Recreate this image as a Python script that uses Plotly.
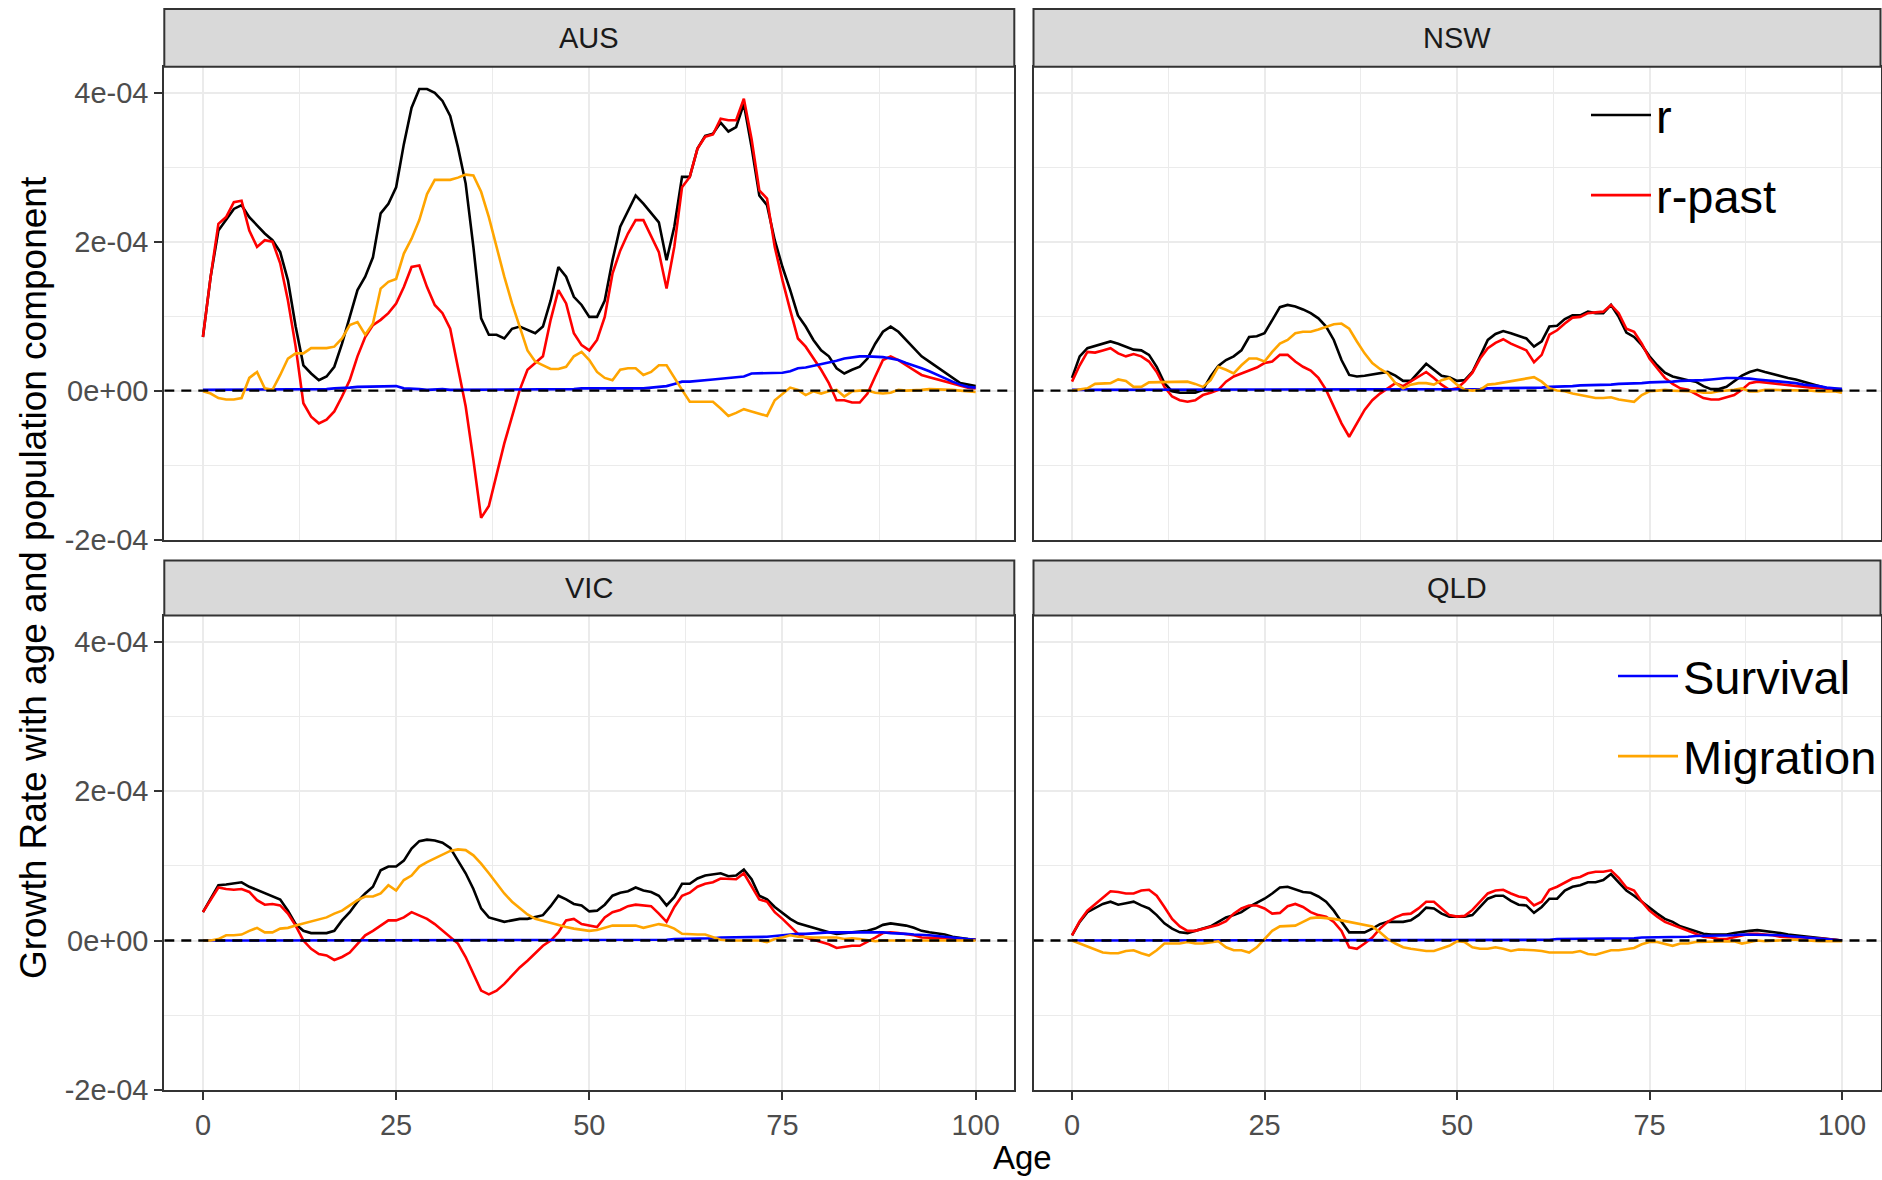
import plotly.graph_objects as go

# ---------------- data (values in units of 1e-4) ----------------
UNIT = 1e-4
AGES = list(range(0, 101))
PANELS = ["AUS", "NSW", "VIC", "QLD"]
SERIES = ["r", "r-past", "Survival", "Migration"]
X_TICK_VALUES = [0, 25, 50, 75, 100]
X_TICK_LABELS = ["0", "25", "50", "75", "100"]
Y_TICK_VALUES = [-2e-4, 0.0, 2e-4, 4e-4]
Y_TICK_LABELS = ["-2e-04", "0e+00", "2e-04", "4e-04"]

AUS_R = [0.72, 1.53, 2.15, 2.29, 2.44, 2.49, 2.33, 2.22, 2.11, 2.02,
         1.86, 1.48, 0.86, 0.34, 0.23, 0.14, 0.19, 0.32, 0.63, 0.99,
         1.35, 1.53, 1.79, 2.38, 2.51, 2.73, 3.31, 3.80, 4.05, 4.05,
         4.00, 3.89, 3.69, 3.27, 2.78, 1.93, 0.97, 0.75, 0.75, 0.70,
         0.83, 0.86, 0.81, 0.77, 0.86, 1.21, 1.66, 1.53, 1.26, 1.15,
         0.99, 0.99, 1.21, 1.75, 2.20, 2.42, 2.62, 2.51, 2.38, 2.26,
         1.75, 2.20, 2.87, 2.87, 3.25, 3.42, 3.45, 3.60, 3.48, 3.54,
         3.85, 3.27, 2.62, 2.49, 2.02, 1.66, 1.35, 1.01, 0.86, 0.68,
         0.54, 0.46, 0.30, 0.23, 0.28, 0.32, 0.43, 0.63, 0.79, 0.86,
         0.79, 0.68, 0.57, 0.46, 0.39, 0.32, 0.25, 0.17, 0.10, 0.08,
         0.06]
AUS_RPAST = [0.72, 1.53, 2.24, 2.33, 2.53, 2.55, 2.15, 1.93, 2.02, 2.00,
             1.71, 1.21, 0.59, -0.17, -0.35, -0.44, -0.39, -0.28, -0.08, 0.14,
             0.46, 0.72, 0.88, 0.95, 1.04, 1.17, 1.39, 1.66, 1.68, 1.39,
             1.15, 1.04, 0.83, 0.32, -0.21, -0.93, -1.71, -1.55, -1.11, -0.71,
             -0.35, 0.01, 0.28, 0.37, 0.46, 0.95, 1.35, 1.17, 0.77, 0.61,
             0.54, 0.68, 0.99, 1.57, 1.88, 2.11, 2.29, 2.29, 2.08, 1.86,
             1.37, 1.93, 2.73, 2.87, 3.25, 3.41, 3.44, 3.65, 3.63, 3.63,
             3.92, 3.38, 2.69, 2.58, 1.93, 1.48, 1.08, 0.70, 0.59, 0.43,
             0.28, 0.10, -0.13, -0.13, -0.16, -0.16, -0.04, 0.19, 0.41, 0.46,
             0.41, 0.34, 0.28, 0.21, 0.18, 0.15, 0.12, 0.09, 0.06, 0.04,
             0.03]
AUS_SURV = [0.01, 0.01, 0.01, 0.01, 0.01, 0.01, 0.01, 0.01, 0.01, 0.01,
            0.01, 0.01, 0.01, 0.01, 0.02, 0.02, 0.02, 0.03, 0.03, 0.04,
            0.05, 0.05, 0.06, 0.06, 0.06, 0.06, 0.03, 0.02, 0.02, 0.01,
            0.02, 0.02, 0.01, 0.01, 0.01, 0.01, 0.01, 0.01, 0.02, 0.02,
            0.02, 0.02, 0.01, 0.01, 0.02, 0.02, 0.02, 0.02, 0.02, 0.03,
            0.03, 0.02, 0.02, 0.02, 0.02, 0.03, 0.03, 0.03, 0.04, 0.05,
            0.06, 0.09, 0.12, 0.12, 0.13, 0.13, 0.15, 0.16, 0.17, 0.19,
            0.19, 0.23, 0.23, 0.24, 0.24, 0.24, 0.26, 0.30, 0.31, 0.33,
            0.35, 0.38, 0.40, 0.43, 0.45, 0.46, 0.46, 0.46, 0.45, 0.43,
            0.41, 0.37, 0.34, 0.30, 0.26, 0.21, 0.17, 0.12, 0.08, 0.05,
            0.04]
AUS_MIG = [-0.01, -0.04, -0.10, -0.12, -0.12, -0.10, 0.17, 0.25, 0.03, 0.01,
           0.21, 0.43, 0.50, 0.50, 0.57, 0.57, 0.57, 0.59, 0.70, 0.88,
           0.92, 0.75, 0.90, 1.37, 1.46, 1.50, 1.84, 2.04, 2.29, 2.64,
           2.83, 2.83, 2.83, 2.86, 2.90, 2.89, 2.67, 2.33, 1.93, 1.53,
           1.17, 0.86, 0.54, 0.39, 0.34, 0.29, 0.29, 0.32, 0.46, 0.52,
           0.41, 0.25, 0.17, 0.14, 0.28, 0.30, 0.30, 0.21, 0.25, 0.34,
           0.34, 0.17, 0.01, -0.15, -0.15, -0.15, -0.15, -0.24, -0.34, -0.30,
           -0.25, -0.28, -0.31, -0.34, -0.13, -0.04, 0.04, 0.01, -0.06, -0.01,
           -0.04, -0.01, 0.01, -0.08, -0.01, 0.00, 0.00, -0.03, -0.04, -0.03,
           0.01, 0.00, 0.00, 0.01, 0.02, 0.02, 0.02, 0.01, 0.00, -0.01,
           -0.02]

NSW_R = [0.17, 0.46, 0.57, 0.60, 0.64, 0.66, 0.63, 0.59, 0.55, 0.54,
         0.48, 0.32, 0.10, -0.01, -0.03, -0.03, -0.03, 0.01, 0.19, 0.33,
         0.41, 0.46, 0.54, 0.72, 0.73, 0.77, 0.95, 1.12, 1.15, 1.13,
         1.09, 1.04, 0.97, 0.86, 0.68, 0.41, 0.21, 0.19, 0.20, 0.22,
         0.24, 0.25, 0.20, 0.13, 0.13, 0.25, 0.36, 0.28, 0.20, 0.18,
         0.13, 0.14, 0.25, 0.46, 0.68, 0.76, 0.80, 0.77, 0.73, 0.70,
         0.59, 0.66, 0.86, 0.87, 0.96, 1.01, 1.01, 1.06, 1.04, 1.04,
         1.15, 0.99, 0.78, 0.72, 0.61, 0.46, 0.34, 0.24, 0.19, 0.16,
         0.14, 0.12, 0.06, 0.02, 0.02, 0.05, 0.12, 0.20, 0.25, 0.28,
         0.25, 0.22, 0.20, 0.17, 0.15, 0.12, 0.09, 0.05, 0.03, 0.02,
         0.02]
NSW_RPAST = [0.12, 0.34, 0.52, 0.51, 0.54, 0.57, 0.50, 0.46, 0.49, 0.46,
             0.39, 0.25, 0.05, -0.08, -0.13, -0.15, -0.13, -0.06, -0.03, 0.01,
             0.12, 0.19, 0.23, 0.27, 0.31, 0.37, 0.39, 0.48, 0.48, 0.39,
             0.32, 0.27, 0.17, 0.01, -0.21, -0.44, -0.62, -0.44, -0.26, -0.13,
             -0.04, 0.03, 0.10, 0.06, 0.12, 0.19, 0.25, 0.17, 0.08, 0.01,
             0.03, 0.12, 0.24, 0.43, 0.57, 0.64, 0.69, 0.63, 0.58, 0.54,
             0.38, 0.48, 0.75, 0.81, 0.90, 0.98, 0.99, 1.04, 1.05, 1.06,
             1.15, 1.04, 0.83, 0.79, 0.63, 0.43, 0.30, 0.17, 0.09, 0.03,
             0.01, -0.04, -0.10, -0.12, -0.12, -0.09, -0.06, 0.01, 0.10, 0.12,
             0.11, 0.10, 0.09, 0.08, 0.06, 0.05, 0.04, 0.04, 0.03, 0.02,
             0.01]
NSW_SURV = [0.01, 0.01, 0.01, 0.01, 0.01, 0.01, 0.01, 0.01, 0.01, 0.01,
            0.01, 0.01, 0.01, 0.01, 0.01, 0.01, 0.01, 0.01, 0.01, 0.01,
            0.01, 0.01, 0.01, 0.01, 0.01, 0.01, 0.01, 0.01, 0.01, 0.01,
            0.01, 0.01, 0.01, 0.01, 0.01, 0.01, 0.01, 0.01, 0.02, 0.02,
            0.02, 0.02, 0.02, 0.02, 0.02, 0.02, 0.02, 0.02, 0.02, 0.02,
            0.02, 0.02, 0.02, 0.02, 0.03, 0.03, 0.03, 0.03, 0.03, 0.04,
            0.04, 0.04, 0.05, 0.05, 0.06, 0.06, 0.07, 0.07, 0.08, 0.08,
            0.08, 0.09, 0.09, 0.10, 0.10, 0.11, 0.11, 0.12, 0.12, 0.13,
            0.13, 0.14, 0.14, 0.15, 0.16, 0.17, 0.17, 0.17, 0.16, 0.15,
            0.14, 0.13, 0.12, 0.11, 0.10, 0.08, 0.07, 0.06, 0.04, 0.03,
            0.02]
NSW_MIG = [0.00, 0.02, 0.03, 0.09, 0.09, 0.10, 0.15, 0.13, 0.05, 0.05,
           0.11, 0.11, 0.11, 0.11, 0.12, 0.12, 0.09, 0.05, 0.14, 0.32,
           0.28, 0.23, 0.34, 0.43, 0.43, 0.39, 0.52, 0.63, 0.68, 0.77,
           0.79, 0.79, 0.82, 0.86, 0.89, 0.90, 0.83, 0.66, 0.50, 0.37,
           0.29, 0.23, 0.10, 0.03, 0.08, 0.10, 0.10, 0.08, 0.14, 0.17,
           0.08, 0.01, 0.00, 0.01, 0.08, 0.09, 0.11, 0.12, 0.14, 0.17,
           0.18, 0.12, 0.03, 0.00, -0.01, -0.04, -0.06, -0.08, -0.10, -0.10,
           -0.09, -0.12, -0.13, -0.15, -0.06, -0.01, 0.00, 0.01, 0.00, 0.00,
           0.00, -0.01, -0.03, -0.03, -0.01, 0.00, 0.01, 0.03, -0.01, -0.01,
           0.01, 0.01, 0.01, 0.00, 0.00, 0.00, 0.00, -0.01, -0.01, -0.01,
           -0.03]

VIC_R = [0.38, 0.56, 0.74, 0.75, 0.77, 0.78, 0.72, 0.68, 0.63, 0.59,
         0.55, 0.40, 0.22, 0.13, 0.10, 0.10, 0.10, 0.13, 0.27, 0.38,
         0.52, 0.63, 0.72, 0.94, 0.99, 0.99, 1.07, 1.23, 1.33, 1.35,
         1.34, 1.31, 1.24, 1.07, 0.90, 0.69, 0.43, 0.31, 0.28, 0.25,
         0.27, 0.29, 0.29, 0.32, 0.34, 0.46, 0.60, 0.55, 0.49, 0.47,
         0.39, 0.40, 0.48, 0.60, 0.64, 0.66, 0.71, 0.67, 0.65, 0.60,
         0.47, 0.58, 0.76, 0.76, 0.83, 0.87, 0.89, 0.90, 0.86, 0.87,
         0.95, 0.82, 0.60, 0.55, 0.45, 0.37, 0.29, 0.23, 0.20, 0.18,
         0.14, 0.11, 0.09, 0.10, 0.11, 0.13, 0.13, 0.16, 0.21, 0.23,
         0.22, 0.20, 0.17, 0.13, 0.11, 0.10, 0.08, 0.05, 0.03, 0.02,
         0.01]
VIC_RPAST = [0.38, 0.54, 0.71, 0.69, 0.68, 0.69, 0.65, 0.54, 0.48, 0.49,
             0.47, 0.36, 0.20, 0.00, -0.11, -0.18, -0.20, -0.26, -0.22, -0.16,
             -0.04, 0.07, 0.13, 0.20, 0.27, 0.27, 0.31, 0.38, 0.34, 0.29,
             0.22, 0.13, 0.04, -0.04, -0.22, -0.45, -0.67, -0.72, -0.67, -0.58,
             -0.47, -0.36, -0.27, -0.17, -0.07, 0.00, 0.11, 0.27, 0.29, 0.22,
             0.20, 0.18, 0.31, 0.38, 0.41, 0.46, 0.48, 0.47, 0.46, 0.36,
             0.25, 0.45, 0.60, 0.64, 0.72, 0.76, 0.78, 0.83, 0.82, 0.82,
             0.90, 0.72, 0.55, 0.52, 0.38, 0.29, 0.19, 0.09, 0.04, 0.01,
             -0.02, -0.05, -0.10, -0.08, -0.07, -0.07, -0.02, 0.04, 0.10, 0.11,
             0.10, 0.09, 0.07, 0.04, 0.04, 0.03, 0.03, 0.02, 0.02, 0.01,
             0.01]
VIC_SURV = [0.00, 0.00, 0.00, 0.00, 0.00, 0.00, 0.00, 0.00, 0.00, 0.00,
            0.00, 0.00, 0.00, 0.00, 0.00, 0.00, 0.00, 0.00, 0.00, 0.00,
            0.01, 0.01, 0.01, 0.01, 0.01, 0.01, 0.01, 0.00, 0.00, 0.00,
            0.00, 0.00, 0.00, 0.00, 0.00, 0.00, 0.00, 0.00, 0.00, 0.00,
            0.00, 0.00, 0.00, 0.00, 0.00, 0.01, 0.01, 0.01, 0.01, 0.01,
            0.01, 0.01, 0.01, 0.01, 0.01, 0.01, 0.01, 0.01, 0.01, 0.01,
            0.01, 0.02, 0.02, 0.03, 0.03, 0.03, 0.03, 0.04, 0.04, 0.04,
            0.04, 0.05, 0.05, 0.05, 0.06, 0.07, 0.08, 0.09, 0.09, 0.10,
            0.10, 0.11, 0.11, 0.11, 0.12, 0.12, 0.12, 0.12, 0.11, 0.10,
            0.09, 0.09, 0.08, 0.08, 0.07, 0.06, 0.05, 0.04, 0.03, 0.02,
            0.01]
VIC_MIG = [0.00, 0.00, 0.02, 0.07, 0.07, 0.08, 0.13, 0.17, 0.11, 0.11,
           0.16, 0.17, 0.20, 0.23, 0.26, 0.29, 0.31, 0.36, 0.40, 0.47,
           0.54, 0.59, 0.59, 0.63, 0.74, 0.67, 0.81, 0.87, 0.99, 1.05,
           1.10, 1.16, 1.20, 1.22, 1.21, 1.14, 1.03, 0.90, 0.76, 0.63,
           0.52, 0.43, 0.35, 0.29, 0.26, 0.23, 0.20, 0.18, 0.16, 0.14,
           0.13, 0.14, 0.17, 0.20, 0.20, 0.20, 0.20, 0.17, 0.20, 0.22,
           0.20, 0.16, 0.09, 0.08, 0.08, 0.08, 0.05, 0.01, 0.00, 0.00,
           0.00, 0.00, 0.00, -0.02, 0.02, 0.04, 0.07, 0.05, 0.04, 0.04,
           0.04, 0.04, 0.04, 0.02, 0.03, 0.02, 0.00, -0.01, 0.00, 0.00,
           0.00, 0.00, 0.00, 0.00, 0.00, 0.00, 0.00, 0.00, 0.00, 0.00,
           0.00]

QLD_R = [0.07, 0.25, 0.38, 0.43, 0.49, 0.52, 0.48, 0.50, 0.52, 0.47,
         0.43, 0.34, 0.23, 0.16, 0.11, 0.10, 0.13, 0.17, 0.19, 0.25,
         0.31, 0.34, 0.38, 0.45, 0.50, 0.56, 0.63, 0.71, 0.72, 0.68,
         0.65, 0.64, 0.59, 0.52, 0.40, 0.25, 0.11, 0.11, 0.11, 0.16,
         0.22, 0.25, 0.25, 0.25, 0.27, 0.34, 0.44, 0.43, 0.36, 0.32,
         0.32, 0.32, 0.34, 0.45, 0.56, 0.60, 0.60, 0.53, 0.48, 0.47,
         0.37, 0.45, 0.56, 0.56, 0.67, 0.72, 0.74, 0.78, 0.78, 0.81,
         0.89, 0.78, 0.67, 0.60, 0.52, 0.43, 0.36, 0.29, 0.25, 0.19,
         0.16, 0.13, 0.09, 0.08, 0.08, 0.08, 0.10, 0.12, 0.13, 0.14,
         0.13, 0.11, 0.10, 0.08, 0.07, 0.05, 0.05, 0.04, 0.02, 0.01,
         0.00]
QLD_RPAST = [0.07, 0.26, 0.40, 0.49, 0.58, 0.66, 0.65, 0.63, 0.63, 0.67,
             0.68, 0.60, 0.45, 0.29, 0.19, 0.13, 0.13, 0.16, 0.18, 0.21,
             0.26, 0.36, 0.43, 0.47, 0.47, 0.43, 0.36, 0.37, 0.46, 0.49,
             0.45, 0.38, 0.34, 0.32, 0.25, 0.13, -0.09, -0.11, -0.04, 0.04,
             0.16, 0.25, 0.31, 0.35, 0.36, 0.43, 0.52, 0.52, 0.43, 0.34,
             0.32, 0.33, 0.41, 0.52, 0.63, 0.67, 0.68, 0.63, 0.59, 0.57,
             0.47, 0.52, 0.68, 0.72, 0.78, 0.83, 0.85, 0.90, 0.92, 0.92,
             0.94, 0.84, 0.71, 0.67, 0.52, 0.40, 0.32, 0.25, 0.21, 0.17,
             0.13, 0.10, 0.05, 0.04, 0.02, 0.02, 0.04, 0.07, 0.09, 0.09,
             0.08, 0.07, 0.05, 0.04, 0.04, 0.04, 0.03, 0.03, 0.02, 0.01,
             0.00]
QLD_SURV = [0.00, 0.00, 0.00, 0.00, 0.00, 0.00, 0.00, 0.00, 0.00, 0.00,
            0.00, 0.00, 0.00, 0.00, 0.00, 0.00, 0.00, 0.00, 0.00, 0.00,
            0.00, 0.00, 0.00, 0.00, 0.00, 0.00, 0.00, 0.00, 0.00, 0.00,
            0.00, 0.00, 0.00, 0.00, 0.00, 0.00, 0.00, 0.00, 0.00, 0.00,
            0.00, 0.00, 0.00, 0.00, 0.00, 0.00, 0.00, 0.00, 0.00, 0.00,
            0.00, 0.00, 0.00, 0.00, 0.00, 0.00, 0.01, 0.01, 0.01, 0.01,
            0.01, 0.01, 0.01, 0.02, 0.02, 0.02, 0.02, 0.02, 0.02, 0.03,
            0.03, 0.03, 0.03, 0.03, 0.04, 0.04, 0.04, 0.04, 0.05, 0.05,
            0.05, 0.06, 0.06, 0.06, 0.07, 0.07, 0.07, 0.08, 0.08, 0.08,
            0.08, 0.07, 0.07, 0.06, 0.05, 0.04, 0.03, 0.03, 0.02, 0.01,
            0.00]
QLD_MIG = [0.00, -0.04, -0.09, -0.13, -0.16, -0.17, -0.17, -0.14, -0.13, -0.17,
           -0.20, -0.13, -0.04, -0.04, -0.04, -0.02, -0.04, -0.04, -0.02, -0.01,
           -0.09, -0.13, -0.13, -0.16, -0.09, 0.02, 0.13, 0.19, 0.19, 0.20,
           0.25, 0.30, 0.31, 0.30, 0.29, 0.27, 0.25, 0.22, 0.21, 0.19,
           0.11, 0.02, -0.04, -0.09, -0.11, -0.13, -0.14, -0.14, -0.11, -0.07,
           -0.01, -0.02, -0.09, -0.11, -0.11, -0.09, -0.11, -0.14, -0.12, -0.12,
           -0.13, -0.14, -0.16, -0.16, -0.16, -0.16, -0.14, -0.18, -0.19, -0.16,
           -0.13, -0.13, -0.12, -0.10, -0.05, -0.02, -0.02, -0.05, -0.07, -0.04,
           -0.04, -0.02, -0.02, -0.02, -0.02, -0.02, -0.01, -0.04, -0.02, 0.00,
           -0.01, 0.00, 0.00, 0.01, 0.01, 0.00, 0.00, -0.01, -0.01, -0.01,
           -0.01]

PANEL_DATA = {
    "AUS": [AUS_R, AUS_RPAST, AUS_SURV, AUS_MIG],
    "NSW": [NSW_R, NSW_RPAST, NSW_SURV, NSW_MIG],
    "VIC": [VIC_R, VIC_RPAST, VIC_SURV, VIC_MIG],
    "QLD": [QLD_R, QLD_RPAST, QLD_SURV, QLD_MIG],
}
for p, arrs in PANEL_DATA.items():
    for a in arrs:
        assert len(a) == len(AGES), (p, len(a))

# ---------------- styling / layout ----------------
W, H = 1882, 1180
FONT = "Liberation Sans, Arial, Helvetica, sans-serif"
COLORS = {"r": "#000000", "r-past": "#FF0000", "Survival": "#0000FF", "Migration": "#FFA500"}
LEGEND_OF = {"r": "legend", "r-past": "legend", "Survival": "legend2", "Migration": "legend2"}


def px_x(v):
    return v / W


def px_y(v):
    return 1 - v / H


COL_X = [(164.3, 1014.3), (1033.5, 1880.5)]
ROW_PLOT = [(66.7, 539.5), (615.5, 1090.0)]
ROW_STRIP = [(9.0, 66.7), (560.5, 615.5)]

AXIS_IDS = {"AUS": ("x", "y", 0, 0), "NSW": ("x2", "y2", 1, 0),
            "VIC": ("x3", "y3", 0, 1), "QLD": ("x4", "y4", 1, 1)}
X_RANGE = [-5, 105]

fig = go.Figure()

for p in PANELS:
    xa, ya, c, r = AXIS_IDS[p]
    for s, vals in zip(SERIES, PANEL_DATA[p]):
        fig.add_trace(go.Scatter(
            x=AGES, y=[v * UNIT for v in vals], mode="lines", name=s,
            line=dict(color=COLORS[s], width=2.6),
            xaxis=xa, yaxis=ya, legend=LEGEND_OF[s], legendgroup=s,
            showlegend=(p == "AUS"), hoverinfo="skip"))

layout = dict(
    width=W, height=H, autosize=False,
    margin=dict(l=0, r=0, t=0, b=0, autoexpand=False),
    paper_bgcolor="white", plot_bgcolor="white",
    font=dict(family=FONT, color="#000000"),
    shapes=[], annotations=[],
)

GRID = "#EBEBEB"
strip_shapes = []
zero_shapes = []
for p in PANELS:
    xa, ya, c, r = AXIS_IDS[p]
    xkey = "xaxis" + xa[1:]
    ykey = "yaxis" + ya[1:]
    x0, x1 = COL_X[c]
    y0, y1 = ROW_PLOT[r]
    bottom = (r == 1)
    left = (c == 0)
    layout[xkey] = dict(
        domain=[px_x(x0), px_x(x1)], anchor=ya, range=X_RANGE,
        tickvals=X_TICK_VALUES, ticktext=X_TICK_LABELS,
        showticklabels=bottom, ticks="outside" if bottom else "",
        ticklen=8, tickwidth=2, tickcolor="#333333",
        tickfont=dict(size=29, color="#4D4D4D", family=FONT),
        showgrid=True, gridcolor=GRID, gridwidth=2, zeroline=False,
        minor=dict(dtick=12.5, tick0=0, showgrid=True, gridcolor=GRID, gridwidth=1.1),
        showline=True, mirror=True, linecolor="#333333", linewidth=2,
        fixedrange=True,
    )
    layout[ykey] = dict(
        domain=[px_y(y1), px_y(y0)], anchor=xa, range=[-2.0e-4, 4.35e-4],
        tickvals=Y_TICK_VALUES, ticktext=Y_TICK_LABELS,
        showticklabels=left, ticks="outside" if left else "",
        ticklen=8, tickwidth=2, tickcolor="#333333",
        tickfont=dict(size=29, color="#4D4D4D", family=FONT),
        showgrid=True, gridcolor=GRID, gridwidth=2, zeroline=False,
        minor=dict(dtick=1e-4, tick0=0, showgrid=True, gridcolor=GRID, gridwidth=1.1),
        showline=True, mirror=True, linecolor="#333333", linewidth=2,
        fixedrange=True,
    )
    # facet strip
    sy0, sy1 = ROW_STRIP[r]
    strip_shapes.append(dict(
        type="rect", xref="paper", yref="paper",
        x0=px_x(x0), x1=px_x(x1), y0=px_y(sy1), y1=px_y(sy0),
        fillcolor="#D9D9D9", line=dict(color="#333333", width=2), layer="above"))
    layout["annotations"].append(dict(
        text=p, xref="paper", yref="paper", x=px_x((x0 + x1) / 2), y=px_y((sy0 + sy1) / 2),
        xanchor="center", yanchor="middle", showarrow=False,
        font=dict(size=29, color="#1A1A1A", family=FONT)))
    # dashed zero reference line across the panel
    zero_shapes.append(dict(
        type="line", xref=xa, x0=X_RANGE[0], x1=X_RANGE[1], yref=ya, y0=0, y1=0,
        line=dict(color="#000000", width=2.4, dash="10px,7px"), layer="above"))

layout["shapes"] = strip_shapes + zero_shapes

# axis titles
layout["annotations"].append(dict(
    text="Age", xref="paper", yref="paper", x=px_x(1022), y=px_y(1157),
    xanchor="center", yanchor="middle", showarrow=False,
    font=dict(size=33, color="#000000", family=FONT)))
layout["annotations"].append(dict(
    text="Growth Rate with age and population component", xref="paper", yref="paper",
    x=px_x(34), y=px_y(578), xanchor="center", yanchor="middle", textangle=-90,
    showarrow=False, font=dict(size=37, color="#000000", family=FONT)))

legend_common = dict(
    xref="paper", yref="paper", xanchor="left", yanchor="top",
    bgcolor="rgba(0,0,0,0)", borderwidth=0, tracegroupgap=16, itemwidth=60,
    font=dict(size=47, color="#000000", family=FONT))
layout["legend"] = dict(legend_common, x=px_x(1586), y=px_y(78))
layout["legend2"] = dict(legend_common, x=px_x(1613), y=px_y(639))

fig.update_layout(**layout)
fig.write_html("out.html")
